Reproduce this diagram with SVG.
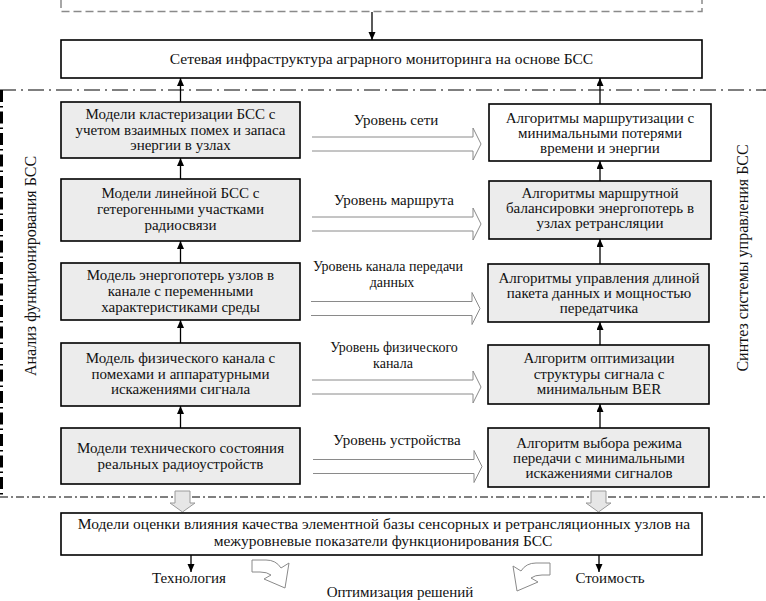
<svg xmlns="http://www.w3.org/2000/svg" width="766" height="601" viewBox="0 0 766 601" font-family="'Liberation Serif', 'Times New Roman', serif">
<style>
  text { font-size: 15px; fill: #111; }
  .c { text-anchor: middle; }
  .sm { font-size: 14px; }
  .lg { font-size: 15.5px; }
  .box { stroke: #000; stroke-width: 1.6; }
  .g { fill: #ececec; }
  .w { fill: #fff; }
  .ln { stroke: #000; stroke-width: 1.3; fill: none; }
  .hol { stroke: #8a8a8a; stroke-width: 1; fill: #fff; }
  .blk { stroke: #9a9a9a; stroke-width: 1; fill: #e6e6e6; }
  .dd1 { stroke: #000; stroke-width: 1.2; stroke-dasharray: 16 5 2 5; fill: none; }
  .dd2 { stroke: #000; stroke-width: 1; stroke-dasharray: 8 3 2 3; fill: none; }
  .ddl { stroke: #000; stroke-width: 3; stroke-dasharray: 12 4 1.5 4; fill: none; }
  .dash { stroke: #8a8a8a; stroke-width: 1.5; stroke-dasharray: 8 4; fill: none; }
</style>
<defs>
  <marker id="ah" markerUnits="userSpaceOnUse" markerWidth="8" markerHeight="8" refX="8" refY="3.5" orient="auto">
    <path d="M0,0 L8,3.5 L0,7 z" fill="#000"/>
  </marker>
  <path id="harrow" d="M0,-7 H161 V-16 L169,0 L161,16 V7 H0"/>
  <path id="carrow" d="M252,560 L266,560 Q276,560 281,568 L289,563 L285,588 L264,579 L271,575 Q267,572 260,572 L252,572 Z"/>
</defs>

<g id="frames">
  <path class="dash" d="M61,0 V11.5 H702 V0"/>
  <line class="dd1" x1="0" y1="90" x2="766" y2="90"/>
  <line class="dd2" x1="0" y1="497" x2="766" y2="497"/>
  <line class="ddl" x1="1.5" y1="90" x2="1.5" y2="497"/>
</g>

<g id="connectors">
  <line class="ln" x1="372" y1="12" x2="372" y2="40" marker-end="url(#ah)"/>
  <line class="ln" x1="180.5" y1="102" x2="180.5" y2="78" marker-end="url(#ah)"/>
  <line class="ln" x1="180.5" y1="179" x2="180.5" y2="158" marker-end="url(#ah)"/>
  <line class="ln" x1="180.5" y1="263" x2="180.5" y2="241" marker-end="url(#ah)"/>
  <line class="ln" x1="180.5" y1="343" x2="180.5" y2="320" marker-end="url(#ah)"/>
  <line class="ln" x1="180.5" y1="428" x2="180.5" y2="406" marker-end="url(#ah)"/>
  <line class="ln" x1="600" y1="104" x2="600" y2="78" marker-end="url(#ah)"/>
  <line class="ln" x1="600" y1="181" x2="600" y2="161" marker-end="url(#ah)"/>
  <line class="ln" x1="600" y1="264" x2="600" y2="239" marker-end="url(#ah)"/>
  <line class="ln" x1="600" y1="345" x2="600" y2="322" marker-end="url(#ah)"/>
  <line class="ln" x1="600" y1="428" x2="600" y2="404" marker-end="url(#ah)"/>
  <line class="ln" x1="191" y1="555" x2="191" y2="572" marker-end="url(#ah)"/>
  <line class="ln" x1="599" y1="555" x2="599" y2="572" marker-end="url(#ah)"/>
  <use href="#harrow" class="hol" transform="translate(312,144)"/>
  <use href="#harrow" class="hol" transform="translate(312,224)"/>
  <use href="#harrow" class="hol" transform="translate(311,308.5)"/>
  <use href="#harrow" class="hol" transform="translate(312,387)"/>
  <use href="#harrow" class="hol" transform="translate(313,466.5)"/>
  <path class="blk" d="M175,491 H190 V503 H195 L182.5,512 L170,503 H175 Z"/>
  <path class="blk" d="M591,491 H606 V503 H611 L598.5,512 L586,503 H591 Z"/>
  <use href="#carrow" class="hol"/>
  <use href="#carrow" class="hol" transform="translate(802,3) scale(-1,1)"/>
</g>

<g id="infra">
  <rect class="box w" x="61" y="40" width="641" height="38"/>
  <text class="c lg" x="381.5" y="64">Сетевая инфраструктура аграрного мониторинга на основе БСС</text>
</g>

<g id="m1">
  <rect class="box g" x="61" y="102" width="239" height="56"/>
  <text class="c" x="180.5" y="119">Модели кластеризации БСС с</text>
  <text class="c" x="180.5" y="135">учетом взаимных помех и запаса</text>
  <text class="c" x="180.5" y="150">энергии в узлах</text>
</g>
<g id="m2">
  <rect class="box g" x="61" y="179" width="239" height="62"/>
  <text class="c" x="180.5" y="198">Модели линейной БСС с</text>
  <text class="c" x="180.5" y="214">гетерогенными участками</text>
  <text class="c" x="180.5" y="230">радиосвязи</text>
</g>
<g id="m3">
  <rect class="box g" x="61" y="263" width="239" height="57"/>
  <text class="c" x="180.5" y="280">Модель энергопотерь узлов в</text>
  <text class="c" x="180.5" y="296">канале с переменными</text>
  <text class="c" x="180.5" y="312">характеристиками среды</text>
</g>
<g id="m4">
  <rect class="box g" x="61" y="343" width="239" height="63"/>
  <text class="c" x="180.5" y="363">Модель физического канала с</text>
  <text class="c" x="180.5" y="379">помехами и аппаратурными</text>
  <text class="c" x="180.5" y="394">искажениями сигнала</text>
</g>
<g id="m5">
  <rect class="box g" x="61" y="428" width="239" height="56"/>
  <text class="c" x="180.5" y="453">Модели технического состояния</text>
  <text class="c" x="180.5" y="469">реальных радиоустройств</text>
</g>

<g id="a1">
  <rect class="box w" x="489" y="104" width="222" height="57"/>
  <text class="c" x="600" y="123">Алгоритмы маршрутизации с</text>
  <text class="c" x="600" y="138">минимальными потерями</text>
  <text class="c" x="600" y="153">времени и энергии</text>
</g>
<g id="a2">
  <rect class="box g" x="489" y="181" width="222" height="58"/>
  <text class="c" x="600" y="198">Алгоритмы маршрутной</text>
  <text class="c" x="600" y="213">балансировки энергопотерь в</text>
  <text class="c" x="600" y="228">узлах ретрансляции</text>
</g>
<g id="a3">
  <rect class="box g" x="488" y="264" width="221" height="58"/>
  <text class="c" x="599" y="283">Алгоритмы управления длиной</text>
  <text class="c" x="599" y="298">пакета данных и мощностью</text>
  <text class="c" x="599" y="313">передатчика</text>
</g>
<g id="a4">
  <rect class="box g" x="488" y="345" width="221" height="59"/>
  <text class="c" x="599" y="363">Алгоритм оптимизации</text>
  <text class="c" x="599" y="379">структуры сигнала с</text>
  <text class="c" x="599" y="394">минимальным BER</text>
</g>
<g id="a5">
  <rect class="box g" x="488" y="428" width="221" height="59"/>
  <text class="c" x="599" y="448">Алгоритм выбора режима</text>
  <text class="c" x="599" y="463">передачи с минимальными</text>
  <text class="c" x="599" y="478">искажениями сигналов</text>
</g>

<g id="level-labels">
  <text class="c" x="396" y="125">Уровень сети</text>
  <text class="c" x="394" y="205">Уровень маршрута</text>
  <text class="c sm" x="388" y="271">Уровень канала передачи</text>
  <text class="c sm" x="392" y="287">данных</text>
  <text class="c sm" x="394" y="352">Уровень физического</text>
  <text class="c sm" x="393" y="368">канала</text>
  <text class="c" x="397" y="445">Уровень устройства</text>
</g>

<g id="side-labels">
  <text class="c" style="font-size:16px" transform="translate(36,266) rotate(-90)">Анализ функционирования БСС</text>
  <text class="c" style="font-size:16px" transform="translate(748,258) rotate(-90)">Синтез системы управления БСС</text>
</g>

<g id="quality">
  <rect class="box w" x="61" y="513" width="641" height="42"/>
  <text class="c lg" x="384" y="529">Модели оценки влияния качества элементной базы сенсорных и ретрансляционных узлов на</text>
  <text class="c lg" x="383" y="546">межуровневые показатели  функционирования БСС</text>
</g>

<g id="outcomes">
  <text class="c" x="189" y="583">Технология</text>
  <text class="c" x="610" y="583">Стоимость</text>
  <text class="c" x="400" y="597">Оптимизация решений</text>
</g>
</svg>
